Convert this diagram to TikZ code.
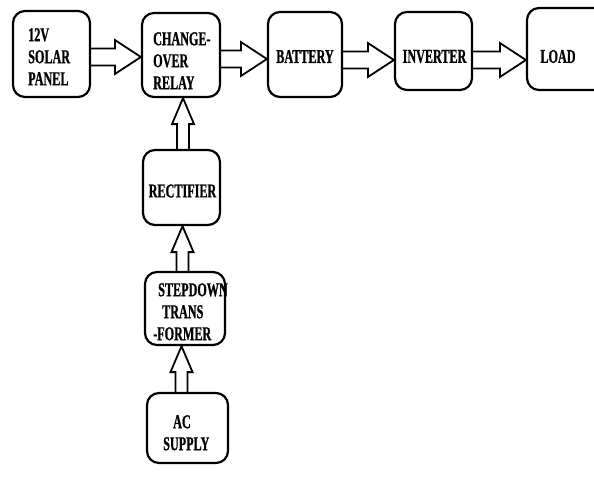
\documentclass[tikz,border=0pt]{standalone}
\usepackage{fontspec}
\newfontfamily\condserif[FakeStretch=0.62,FakeBold=0.8]{Liberation Serif}
\usetikzlibrary{calc}
\begin{document}
\begin{tikzpicture}[x=1pt,y=-1pt,
  box/.style={draw, line width=2.2pt, rounded corners=12pt, inner sep=0pt},
  txt/.style={font=\condserif\bfseries\fontsize{19.6}{22}\selectfont, align=left, inner sep=0pt},
  harr/.style={line width=1.8pt, line join=miter,
    to path={let \p1=(\tikztostart),\p2=(\tikztotarget) in
      (\x1,\y2+8.5pt) -- (\x2-26pt,\y2+8.5pt) -- (\x2-26pt,\y2+17pt) -- (\x2,\y2)
      -- (\x2-26pt,\y2-17pt) -- (\x2-26pt,\y2-8.5pt) -- (\x1,\y2-8.5pt)}},
  varr/.style={line width=1.8pt, line join=miter,
    to path={let \p1=(\tikztostart),\p2=(\tikztotarget) in
      (\x2-6pt,\y1) -- (\x2-6pt,\y2-26pt) -- (\x2-11pt,\y2-26pt) -- (\x2,\y2)
      -- (\x2+11pt,\y2-26pt) -- (\x2+6pt,\y2-26pt) -- (\x2+6pt,\y1)}}]
\clip (0,0) rectangle (594,488);
\fill[white] (0,0) rectangle (594,488);

% boxes
\node[box, minimum width=77pt, minimum height=86pt] (solar) at (51.5,54) {};
\node[box, minimum width=78pt, minimum height=84pt] (relay) at (181,55) {};
\node[box, minimum width=74pt, minimum height=85pt] (battery) at (305,54.5) {};
\node[box, minimum width=77pt, minimum height=78pt] (inverter) at (433.5,51) {};
\node[box, minimum width=90pt, minimum height=82pt] (load) at (572,49) {};
\node[box, minimum width=77pt, minimum height=75pt] (rectifier) at (181.5,187.5) {};
\node[box, minimum width=80pt, minimum height=73pt] (stepdown) at (185,308.5) {};
\node[box, minimum width=81pt, minimum height=70pt] (ac) at (187.5,428) {};

% texts
\node[txt, anchor=north west] (solart) at (28,28) {12V\\SOLAR\\PANEL};
\node[txt, anchor=north west] (relayt) at (153,32) {CHANGE-\\OVER\\RELAY};
\node[txt] (batteryt) at (305,56.5) {BATTERY};
\node[txt] (invertert) at (434.5,56.5) {INVERTER};
\node[txt] (loadt) at (558,56.5) {LOAD};
\node[txt] (rectifiert) at (182.5,191) {RECTIFIER};
\node[txt, anchor=north west] (stepdownt) at (153,283) {\hspace*{5pt}STEPDOWN\\\hspace*{9pt}TRANS\\-FORMER};
\node[txt, anchor=north west] (act) at (163,415) {\hspace*{10pt}AC\\SUPPLY};

% block arrows
\draw[harr] (solar.east |- 0,57) to (relay.west |- 0,57);
\draw[harr] (relay.east |- 0,59) to (battery.west |- 0,59);
\draw[harr] (battery.east |- 0,60) to (inverter.west |- 0,60);
\draw[harr] (inverter.east |- 0,60) to (load.west |- 0,60);
\draw[varr] (rectifier.north -| 183,0) to (relay.south -| 183,0);
\draw[varr] (stepdown.north -| 182.5,0) to (rectifier.south -| 182.5,0);
\draw[varr] (ac.north -| 181.5,0) to (stepdown.south -| 181.5,0);
\end{tikzpicture}
\end{document}
